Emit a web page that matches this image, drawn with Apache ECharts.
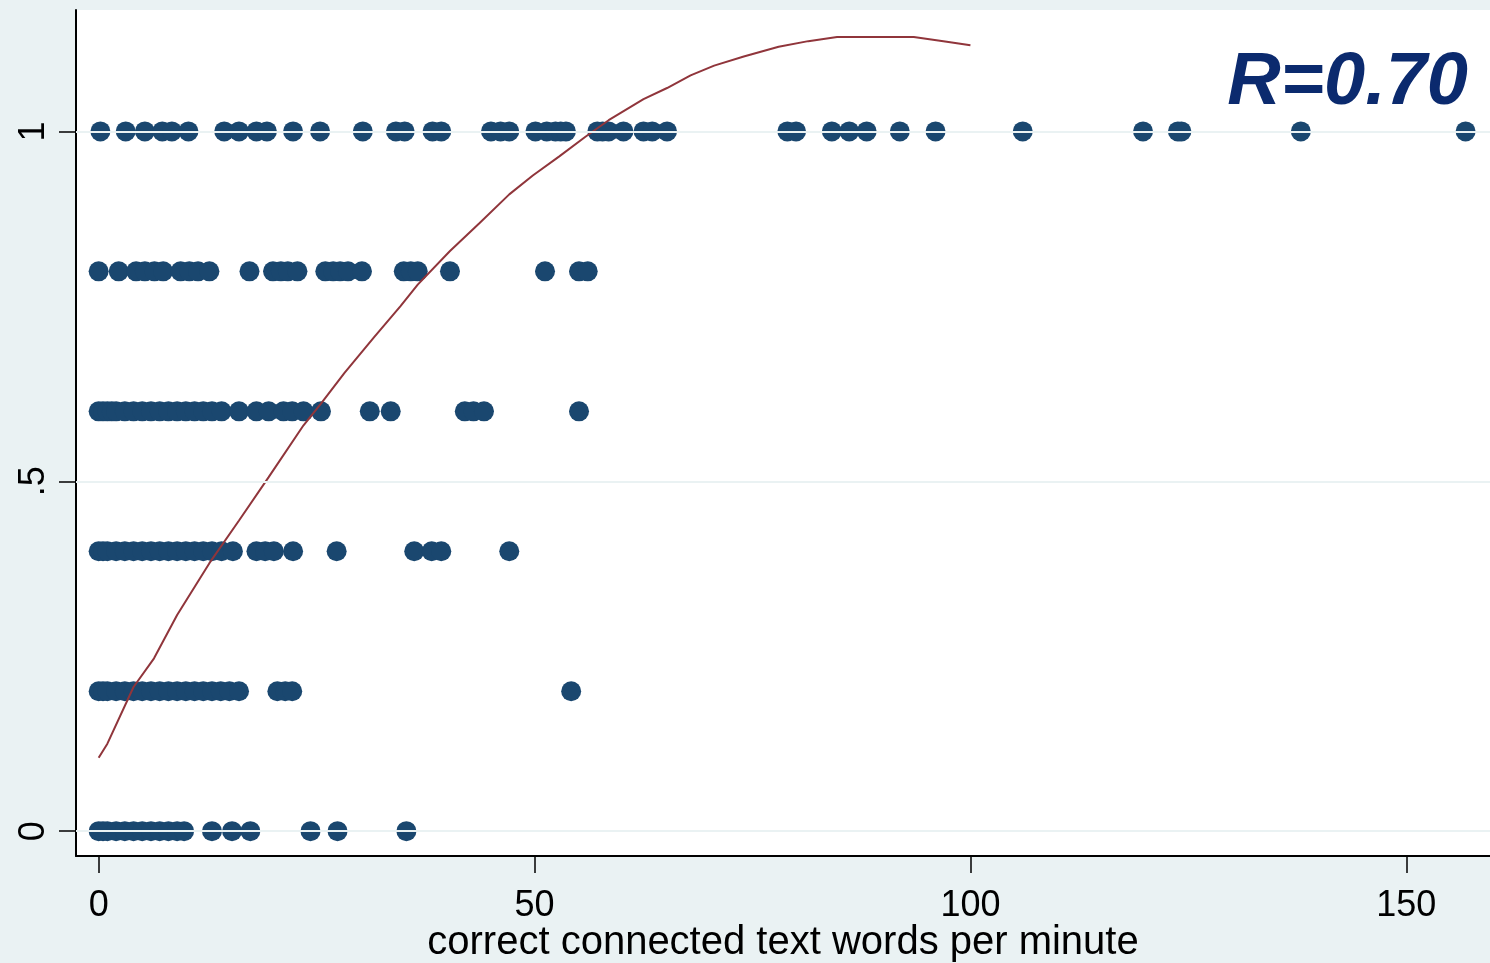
<!DOCTYPE html>
<html>
<head>
<meta charset="utf-8">
<script src="https://cdn.jsdelivr.net/npm/echarts@6/dist/echarts.min.js"></script>
<style>
html,body{margin:0;padding:0;background:#eaf2f3;}
#chart{width:1490px;height:963px;}
</style>
</head>
<body>
<div id="chart"></div>
<script>
// ---- data ----
const xTicks = [0, 50, 100, 150];
const yTicks = [0, 0.5, 1];
const yTickLabels = ['0', '.5', '1'];
const xTitle = 'correct connected text words per minute';
const annotation = 'R=0.70';

const xAt1 = [0.2, 3.1, 5.3, 7.3, 8.4, 10.3, 14.4, 16.1, 18.1, 19.3, 22.3, 25.4, 30.3, 34.1, 35.1, 38.3, 39.3, 45.0, 46.1, 47.1, 50.1, 51.4, 52.4, 53.0, 53.6, 57.2, 57.8, 58.5, 60.2, 62.5, 63.5, 65.2, 79.0, 80.0, 84.1, 86.1, 88.1, 91.9, 96.0, 106.0, 119.8, 123.8, 124.2, 137.9, 156.8];
const xAt08 = [0, 2.3, 4.3, 5.3, 6.4, 7.4, 9.4, 10.4, 11.4, 12.7, 17.3, 20.0, 20.9, 21.7, 22.8, 26.0, 26.9, 27.7, 28.6, 30.2, 35.0, 35.8, 36.6, 40.3, 51.2, 55.1, 56.1];
const xAt06 = [0, 0.5, 1, 1.5, 2, 3, 4, 5, 6, 7, 8, 9, 10, 11, 12, 13, 14.1, 16.1, 18.1, 19.5, 21.2, 22.2, 23.5, 25.5, 31.1, 33.5, 42.0, 43.0, 44.2, 55.1];
const xAt04 = [0, 0.5, 1, 2, 3, 4, 5, 6, 7, 8, 9, 10, 11, 12, 13, 14.1, 15.4, 18.1, 19.1, 20.1, 22.3, 27.3, 36.2, 38.2, 39.3, 47.1];
const xAt02 = [0, 0.5, 1, 2, 3, 4, 5, 6, 7, 8, 9, 10, 11, 12, 13, 14, 15, 16.1, 20.5, 21.4, 22.2, 54.2];
const xAt0 = [0, 0.5, 1, 2, 3, 4, 5, 6, 7, 8, 9, 9.8, 13.0, 15.3, 17.4, 24.3, 27.4, 35.3];

const curveX = [0, 1, 4.0, 6.35, 9.0, 12.7, 16.1, 19.5, 23.5, 25.5, 28.2, 31.6, 34.6, 36.6, 40.3, 43.7, 47.1, 49.8, 52.8, 55.8, 58.5, 62.5, 65.2, 67.9, 70.6, 74.0, 78.0, 81.4, 84.7, 93.5, 96.9, 100];
const curveY = [0.105, 0.125, 0.206, 0.247, 0.309, 0.383, 0.444, 0.506, 0.580, 0.611, 0.655, 0.706, 0.750, 0.781, 0.829, 0.869, 0.910, 0.937, 0.964, 0.992, 1.016, 1.046, 1.062, 1.080, 1.094, 1.107, 1.121, 1.129, 1.135, 1.135, 1.129, 1.123];

// ---- build ----
const rows = [[1, xAt1], [0.8, xAt08], [0.6, xAt06], [0.4, xAt04], [0.2, xAt02], [0, xAt0]];
const scatterData = [];
rows.forEach(([y, xs]) => xs.forEach(x => scatterData.push([x, y])));
const curveData = curveX.map((x, i) => [x, curveY[i]]);

const chart = echarts.init(document.getElementById('chart'));
const FONT = '"Liberation Sans", Arial, sans-serif';
chart.setOption({
  backgroundColor: '#eaf2f3',
  animation: false,
  grid: { left: 76, top: 10, right: 0, bottom: 107, show: true, backgroundColor: '#ffffff', borderWidth: 0, outerBoundsMode: 'none', containLabel: false },
  xAxis: {
    type: 'value', min: -2.6, max: 159.6,
    splitLine: { show: false },
    axisLine: { show: true, onZero: false, lineStyle: { color: '#000', width: 2 } },
    axisTick: { show: true, length: 17, customValues: xTicks, lineStyle: { color: '#000', width: 1.5 } },
    axisLabel: { customValues: xTicks, color: '#000', fontSize: 36, fontFamily: FONT, margin: 32 },
    name: xTitle, nameLocation: 'middle', nameGap: 67, nameMoveOverlap: false,
    nameTextStyle: { color: '#000', fontSize: 40, fontFamily: FONT }
  },
  yAxis: {
    type: 'value', min: -0.0355, max: 1.1735,
    splitLine: { show: false },
    axisLine: { show: true, onZero: false, lineStyle: { color: '#000', width: 2 } },
    axisTick: { show: true, length: 17, customValues: yTicks, lineStyle: { color: '#000', width: 1.5 } },
    axisLabel: {
      customValues: yTicks, color: '#000', fontSize: 36, fontFamily: FONT, rotate: 90, margin: 24,
      formatter: v => yTickLabels[yTicks.indexOf(Math.round(v * 10) / 10)] ?? ''
    }
  },
  graphic: [{
    type: 'text', right: 22, top: 47, z: 100,
    style: { text: annotation, fill: '#0b2a6e', font: 'italic bold 74px "Liberation Sans", Arial, sans-serif' }
  }],
  series: [
    {
      type: 'line', data: [], z: 1, silent: true,
      markLine: {
        silent: true, symbol: 'none', label: { show: false },
        lineStyle: { color: '#eaf2f3', width: 2, type: 'solid' },
        data: yTicks.map(v => ({ yAxis: v }))
      }
    },
    {
      type: 'scatter', data: scatterData, z: 2,
      symbol: 'circle', symbolSize: 20,
      itemStyle: { color: '#1a476f', opacity: 1 }
    },
    {
      type: 'line', data: curveData, z: 3, showSymbol: false, smooth: false,
      lineStyle: { color: '#90353b', width: 2 }
    }
  ]
});
</script>
</body>
</html>
